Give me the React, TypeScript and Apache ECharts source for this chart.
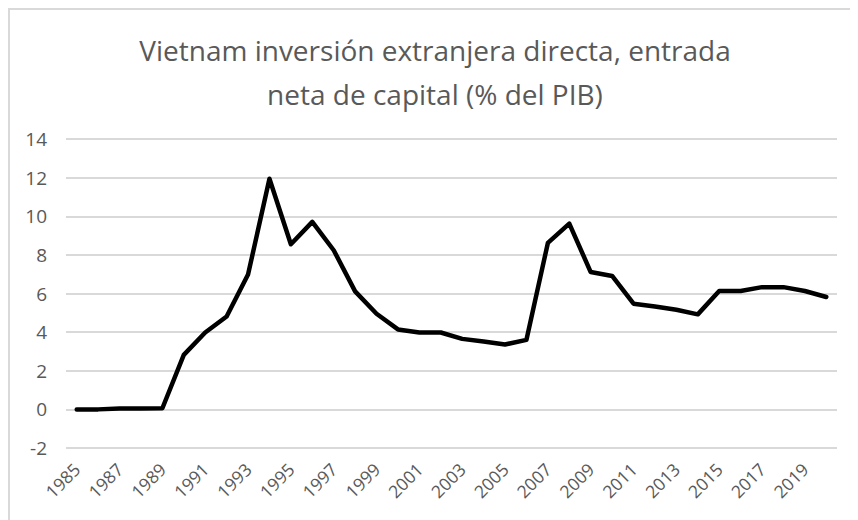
import React, { useEffect, useRef } from "react";
import * as echarts from "echarts";

const years: string[] = [
  "1985", "1986", "1987", "1988", "1989", "1990", "1991", "1992", "1993", "1994",
  "1995", "1996", "1997", "1998", "1999", "2000", "2001", "2002", "2003", "2004",
  "2005", "2006", "2007", "2008", "2009", "2010", "2011", "2012", "2013", "2014",
  "2015", "2016", "2017", "2018", "2019", "2020",
];

const fdiValues: number[] = [
  0.0, 0.0, 0.04, 0.05, 0.06, 2.82, 3.98, 4.81, 6.98, 11.94,
  8.55, 9.71, 8.24, 6.11, 4.95, 4.14, 3.98, 3.98, 3.65, 3.51,
  3.36, 3.6, 8.62, 9.62, 7.11, 6.91, 5.47, 5.33, 5.16, 4.92,
  6.13, 6.13, 6.33, 6.33, 6.13, 5.82,
];

const titleLines: string[] = [
  "Vietnam inversión extranjera directa, entrada",
  "neta de capital (% del PIB)",
];

const yMin = -2;
const yMax = 14;
const yStep = 2;

export default function App() {
  const ref = useRef<HTMLDivElement>(null);
  useEffect(() => {
    if (!ref.current) return;
    const chart = echarts.init(ref.current, undefined, { renderer: "svg" });
    const font = "'Open Sans', sans-serif";
    chart.setOption({
      animation: false,
      backgroundColor: "#ffffff",
      title: {
        text: titleLines.join("\n"),
        left: "center",
        top: 13,
        textStyle: {
          fontFamily: font,
          fontSize: 28,
          fontWeight: "normal",
          color: "#595959",
          lineHeight: 44,
        },
      },
      grid: { left: 56, right: 23, top: 129, bottom: 74, containLabel: false },
      xAxis: {
        type: "category",
        data: years,
        boundaryGap: true,
        axisLine: { show: false },
        axisTick: { show: false },
        axisLabel: {
          interval: 1,
          rotate: 45,
          fontFamily: font,
          fontSize: 17.5,
          color: "#595959",
          margin: 18,
        },
        splitLine: { show: false },
      },
      yAxis: {
        type: "value",
        min: yMin,
        max: yMax,
        interval: yStep,
        axisLine: { show: false },
        axisTick: { show: false },
        axisLabel: {
          fontFamily: font,
          fontSize: 19,
          color: "#595959",
          margin: 19,
        },
        splitLine: { lineStyle: { color: "#d9d9d9", width: 2 } },
      },
      series: [
        {
          type: "line",
          data: fdiValues,
          symbol: "none",
          lineStyle: { color: "#000000", width: 4.5, join: "round", cap: "round" },
          itemStyle: { color: "#000000" },
        },
      ],
    });
    return () => chart.dispose();
  }, []);
  return (
    <div style={{ width: 850, height: 512, border: "2px solid #d9d9d9", background: "#fff" }}>
      <div ref={ref} style={{ width: 850, height: 512 }} />
    </div>
  );
}
